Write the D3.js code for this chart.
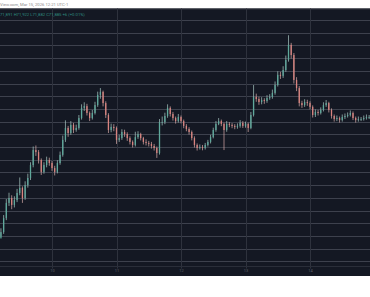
<!DOCTYPE html>
<html><head><meta charset="utf-8">
<script src="https://cdn.jsdelivr.net/npm/d3@7"></script>
<style>html,body{margin:0;padding:0;background:#fff;}svg{display:block;}</style>
</head><body>
<svg id="c" width="370" height="297"></svg>
<script>
// ---- data ----
const headerText = "View.com, Mar 15, 2026 12:21 UTC-1";
const ohlcText = "71,891 H71,922 L71,882 C71,885 +6 (+0.01%)";
const startTime = Date.UTC(2026, 2, 9, 5); // first hourly candle
const firstOpen = 66900;
const closes = [67150,67700,68300,68490,68220,68410,68690,68890,68490,69000,
 69280,69790,70380,70300,69990,69520,69790,69990,69870,69670,
 69520,69870,70190,70780,71250,71050,71370,71170,71250,71640,
 72040,72110,71840,71640,71840,72150,72550,72670,72230,71760,
 71170,71290,71250,70780,70850,71090,71010,70850,70700,70580,
 70890,71010,70850,70700,70660,70620,70540,70460,70260,71480,
 71480,71720,72040,71800,71640,71520,71680,71520,71330,71210,
 71090,70850,70580,70460,70500,70460,70580,70700,70890,71170,
 71410,71520,71410,71170,71410,71370,71330,71290,71330,71450,
 71330,71410,71250,71760,72470,72390,72270,72350,72310,72430,
 72470,72630,72940,73340,73300,73530,73930,74520,74120,73140,
 72820,72230,72150,72270,72230,72080,71760,71880,71840,71960,
 72150,72230,71960,71720,71600,71640,71560,71680,71720,71760,
 71840,71640,71560,71600,71600,71640,71680,71680];
const highs = [67300,67820,68450,68700,68600,68560,68850,69300,68950,69150,
 69450,69900,70520,70560,70380,70050,69900,70120,70080,69950,
 69760,69980,70320,70950,71550,71330,71520,71450,71380,71760,
 72180,72260,72200,71900,71960,72280,72680,72820,72720,72300,
 71830,71420,71400,71310,70980,71200,71180,71080,70920,70760,
 71100,71120,71060,70900,70800,70740,70700,70620,70520,71600,
 71700,71850,72180,72100,71880,71700,71800,71740,71580,71400,
 71280,71150,70920,70640,70600,70580,70660,70780,70980,71260,
 71520,71640,71580,71460,71520,71480,71440,71400,71430,71560,
 71520,71500,71460,71880,72940,72600,72480,72460,72420,72540,
 72580,72760,73080,73480,73460,73680,74100,74900,74600,74200,
 73250,72900,72320,72380,72360,72300,72140,71980,71960,72060,
 72260,72350,72280,72020,71780,71740,71700,71780,71820,71860,
 71940,71900,71700,71700,71680,71740,71780,71760];
const lows = [66980,67080,67620,68180,68050,68120,68330,68600,68300,68420,
 68900,69200,69700,70150,69850,69400,69450,69700,69760,69560,
 69380,69460,69800,70120,70700,70900,70980,71050,71100,71180,
 71580,71920,71740,71520,71580,71780,72080,72400,72100,71640,
 71050,71080,71120,70620,70700,70780,70900,70740,70600,70480,
 70520,70820,70760,70600,70560,70520,70440,70360,70070,70200,
 71350,71400,71650,71700,71540,71420,71460,71430,71240,71120,
 70990,70760,70480,70360,70400,70370,70400,70520,70640,70840,
 71100,71360,71320,70380,71100,71280,71240,71200,71220,71260,
 71250,71260,71090,71200,71700,72280,72160,72180,72200,72240,
 72360,72400,72560,72880,73180,73220,73460,73860,73980,73000,
 72700,72100,72040,72080,72120,71980,71660,71680,71740,71780,
 71900,72080,71860,71620,71500,71520,71460,71500,71600,71660,
 71700,71560,71460,71500,71520,71540,71580,71600];
const priceTicks = [66000,66500,67000,67500,68000,68500,69000,69500,70000,70500,
 71000,71500,72000,72500,73000,73500,74000,74500,75000,75500];
const dayTicks = [Date.UTC(2026,2,10),Date.UTC(2026,2,11),Date.UTC(2026,2,12),Date.UTC(2026,2,13),Date.UTC(2026,2,14)];

// ---- build candles ----
const candles = closes.map((c, i) => ({
  t: new Date(startTime + i * 3600e3),
  o: i === 0 ? firstOpen : closes[i - 1],
  h: highs[i], l: lows[i], c
}));

const svg = d3.select("#c");
const W = 370, panelTop = 8.5, panelBottom = 276, axisY = 266.5;

const x = d3.scaleUtc().domain([new Date(dayTicks[0]), new Date(dayTicks[4])]).range([52, 310]);
const y = d3.scaleLinear().domain([66000, 75500]).range([261.3, 20]);

const defs = svg.append("defs");
defs.append("filter").attr("id", "soft").attr("x", "-5%").attr("y", "-5%").attr("width", "110%").attr("height", "110%")
  .append("feGaussianBlur").attr("stdDeviation", 0.35);

svg.append("rect").attr("x", 0).attr("y", panelTop).attr("width", W).attr("height", panelBottom - panelTop).attr("fill", "#141823");
svg.append("line").attr("x1", 0).attr("x2", W).attr("y1", panelTop + 0.5).attr("y2", panelTop + 0.5).attr("stroke", "#323642");

// horizontal grid
svg.append("g").selectAll("line").data(priceTicks).join("line")
  .attr("x1", 0).attr("x2", W)
  .attr("y1", d => Math.round(y(d)) + 0.5).attr("y2", d => Math.round(y(d)) + 0.5)
  .attr("stroke", "#3d414d").attr("stroke-width", 1);

// vertical grid
svg.append("g").selectAll("line").data(dayTicks).join("line")
  .attr("x1", d => Math.round(x(new Date(d))) + 0.5).attr("x2", d => Math.round(x(new Date(d))) + 0.5)
  .attr("y1", panelTop).attr("y2", axisY + 2)
  .attr("stroke", "#2e323d").attr("stroke-width", 1);

// time axis
svg.append("line").attr("x1", 0).attr("x2", W).attr("y1", axisY).attr("y2", axisY).attr("stroke", "#2a2e39");
const xAxis = d3.axisBottom(x).tickValues(dayTicks.map(d => new Date(d))).tickFormat(d3.utcFormat("%-d")).tickSize(0).tickPadding(3);
const ax = svg.append("g").attr("transform", `translate(0,${axisY})`).call(xAxis);
ax.select(".domain").remove();
ax.selectAll("text").attr("fill", "#5d606a").attr("font-size", 4).attr("font-family", "Roboto, sans-serif");

// candles
const bw = 1.3;
const g = svg.append("g").attr("filter", "url(#soft)");
g.selectAll("line").data(candles).join("line")
  .attr("x1", d => x(d.t)).attr("x2", d => x(d.t))
  .attr("y1", d => y(d.h)).attr("y2", d => y(d.l))
  .attr("stroke", d => d.c >= d.o ? "#a9c9c3" : "#d7aaa8").attr("stroke-width", 0.7);
g.selectAll("rect").data(candles).join("rect")
  .attr("x", d => x(d.t) - bw / 2).attr("width", bw)
  .attr("y", d => y(Math.max(d.o, d.c)))
  .attr("height", d => Math.max(0.8, Math.abs(y(d.o) - y(d.c))))
  .attr("fill", d => d.c >= d.o ? "#5fa99c" : "#d9837f");

// header texts
svg.append("text").attr("x", 0).attr("y", 6).attr("font-size", 4.2).attr("fill", "#8a8a8a")
  .attr("font-family", "Roboto, sans-serif").text(headerText);
svg.append("text").attr("x", 0).attr("y", 15.5).attr("font-size", 4.2).attr("fill", "#2f8c80")
  .attr("font-family", "Roboto, sans-serif").text(ohlcText);
</script>
</body></html>
